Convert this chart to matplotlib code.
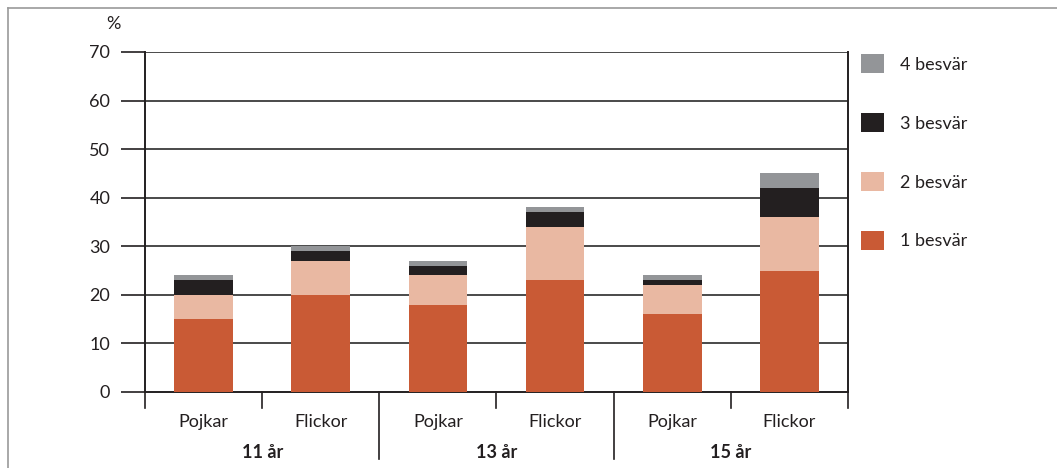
import numpy as np
import matplotlib.pyplot as plt
from matplotlib.patches import Patch
from matplotlib.lines import Line2D
from matplotlib.transforms import blended_transform_factory

plt.rcParams['font.family'] = ['Lato', 'DejaVu Sans']

# Data (% of pupils)
genders = ['Pojkar', 'Flickor', 'Pojkar', 'Flickor', 'Pojkar', 'Flickor']
ages = ['11 år', '13 år', '15 år']
besvar_1 = [15, 20, 18, 23, 16, 25]
besvar_2 = [5, 7, 6, 11, 6, 11]
besvar_3 = [3, 2, 2, 3, 1, 6]
besvar_4 = [1, 1, 1, 1, 1, 3]
labels = ['1 besvär', '2 besvär', '3 besvär', '4 besvär']
colors = ['#C95A35', '#E9B8A2', '#231F20', '#939598']

txt = '#231F20'
fig = plt.figure(figsize=(10.57, 4.68), dpi=100)
ax = fig.add_axes([145/1057, 1 - 392/468, (848-145)/1057, (392-52)/468])

x = np.arange(len(genders))
bottom = np.zeros(len(genders))
for vals, c in zip([besvar_1, besvar_2, besvar_3, besvar_4], colors):
    ax.bar(x, vals, width=0.5, bottom=bottom, color=c, zorder=3)
    bottom += np.array(vals)

ax.set_xlim(-0.5, 5.5)
ax.set_ylim(0, 70)
ax.set_yticks(range(0, 71, 10))
ax.tick_params(axis='y', length=17, width=1.2, color=txt, labelsize=13,
               labelcolor=txt, pad=8)
ax.set_xticks([])
for y in range(10, 71, 10):
    ax.axhline(y, color='#4a4a4a', lw=1.4, zorder=1)

ax.spines['top'].set_visible(False)
for s in ['left', 'right', 'bottom']:
    ax.spines[s].set_color(txt)
    ax.spines[s].set_linewidth(1.4)

# separators below the x axis (lengths in pixels of a 340 px tall axes)
trans = blended_transform_factory(ax.transData, ax.transAxes)
for i in range(7):
    xs = i - 0.5
    length = 67 if i in (2, 4) else 16
    ax.plot([xs, xs], [0, -length / 340], transform=trans, color=txt,
            lw=1.2, clip_on=False)

for i, g in enumerate(genders):
    ax.text(i, -30 / 340, g, transform=trans, ha='center', va='center',
            fontsize=13, color=txt)
for j, a in enumerate(ages):
    ax.text(2 * j + 0.5, -61 / 340, a, transform=trans, ha='center', va='center',
            fontsize=13, fontweight='bold', color=txt)

fig.text(113/1057, 1 - 24/468, '%', ha='center', va='center', fontsize=13,
         color=txt)

handles = [Patch(facecolor=c, edgecolor='none') for c in colors][::-1]
fig.legend(handles, labels[::-1], loc='upper left',
           bbox_to_anchor=(845/1057, 1 - 38/468), frameon=False,
           fontsize=13, handlelength=1.25, handleheight=1.25,
           labelspacing=2.2, handletextpad=0.9, labelcolor=txt)

# thin frame lines at top and left
fig.add_artist(Line2D([8/1057, 8/1057], [0, 1 - 8/468], color='#9a9a9a', lw=1.2))
fig.add_artist(Line2D([8/1057, 1], [1 - 8/468, 1 - 8/468], color='#9a9a9a', lw=1.2))

fig.savefig('out.png', dpi=100)
